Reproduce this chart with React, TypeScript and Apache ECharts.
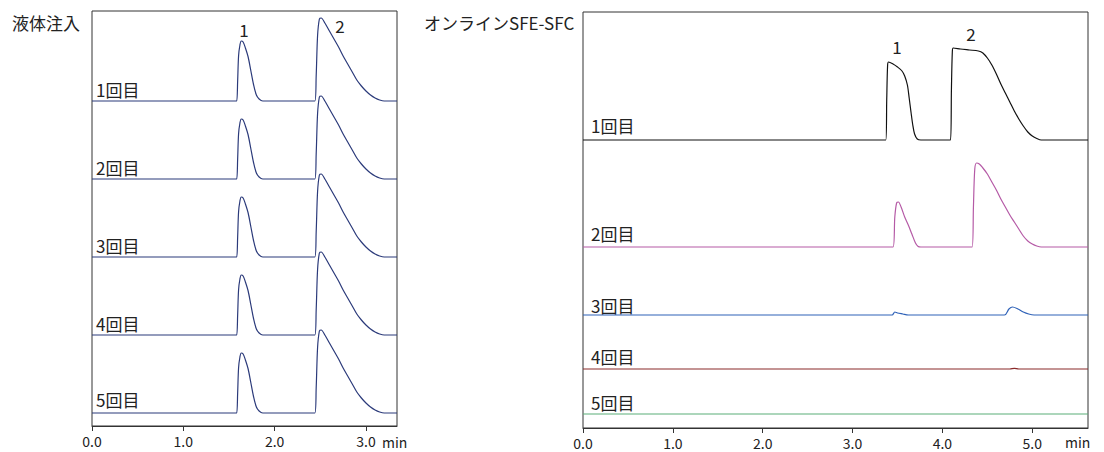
import React, { useEffect, useRef } from "react";
import * as echarts from "echarts";

// ---- Data ----
const runLabels = ["1回目", "2回目", "3回目", "4回目", "5回目"];
const xUnit = "min";

// Left panel (liquid injection) — same profile read for every run
const leftTimes = [0, 1.57, 1.585, 1.595, 1.605, 1.62, 1.635, 1.655, 1.68, 1.71, 1.74, 1.77, 1.8, 1.83, 1.87, 2.44, 2.455, 2.47, 2.49, 2.51, 2.55, 2.6, 2.65, 2.7, 2.75, 2.8, 2.85, 2.9, 2.95, 3.0, 3.05, 3.1, 3.15, 3.2, 3.34];
const leftRun1 = [0, 0, 0, 20, 45, 56, 60, 59, 53, 44, 30, 16, 6, 2, 0, 0, 25, 65, 82, 83, 78, 70, 62, 54, 45, 37, 29, 21, 15, 10, 6, 3, 1, 0, 0];
const leftRun2 = [0, 0, 0, 20, 45, 56, 60, 59, 53, 44, 30, 16, 6, 2, 0, 0, 25, 65, 82, 83, 78, 70, 62, 54, 45, 37, 29, 21, 15, 10, 6, 3, 1, 0, 0];
const leftRun3 = [0, 0, 0, 20, 45, 56, 60, 59, 53, 44, 30, 16, 6, 2, 0, 0, 25, 65, 82, 83, 78, 70, 62, 54, 45, 37, 29, 21, 15, 10, 6, 3, 1, 0, 0];
const leftRun4 = [0, 0, 0, 20, 45, 56, 60, 59, 53, 44, 30, 16, 6, 2, 0, 0, 25, 65, 82, 83, 78, 70, 62, 54, 45, 37, 29, 21, 15, 10, 6, 3, 1, 0, 0];
const leftRun5 = [0, 0, 0, 20, 45, 56, 60, 59, 53, 44, 30, 16, 6, 2, 0, 0, 25, 65, 82, 83, 78, 70, 62, 54, 45, 37, 29, 21, 15, 10, 6, 3, 1, 0, 0];
const leftOffsets = [325, 247, 169, 91, 13];

// Right panel (online SFE-SFC)
const rightRun1T = [0, 3.37, 3.38, 3.39, 3.4, 3.45, 3.5, 3.55, 3.58, 3.61, 3.63, 3.65, 3.67, 3.69, 3.72, 3.76, 4.09, 4.1, 4.11, 4.12, 4.2, 4.3, 4.4, 4.45, 4.5, 4.55, 4.6, 4.65, 4.7, 4.75, 4.8, 4.85, 4.9, 4.95, 5.0, 5.05, 5.1, 5.62];
const rightRun1V = [0, 0, 40, 75, 78, 76, 73, 69, 64, 55, 42, 28, 15, 6, 1, 0, 0, 50, 88, 92, 91, 90, 89, 87, 82, 75, 66, 56, 47, 38, 29, 21, 14, 8, 4, 1.5, 0, 0];
const rightRun2T = [0, 3.45, 3.47, 3.49, 3.51, 3.54, 3.58, 3.62, 3.66, 3.7, 3.73, 3.76, 4.33, 4.345, 4.36, 4.38, 4.41, 4.45, 4.5, 4.55, 4.6, 4.65, 4.7, 4.75, 4.8, 4.85, 4.9, 4.95, 5.0, 5.05, 5.1, 5.62];
const rightRun2V = [0, 0, 30, 44, 45, 40, 30, 22, 13, 4, 0.5, 0, 0, 40, 78, 84, 83, 79, 73, 65, 57, 48, 40, 32, 25, 18, 11, 6, 3, 1, 0, 0];
const rightRun3T = [0, 3.44, 3.47, 3.5, 3.56, 3.62, 4.69, 4.74, 4.78, 4.84, 4.9, 4.96, 5.02, 5.62];
const rightRun3V = [0, 0, 3, 2, 1, 0, 0, 6, 8, 6, 3, 1, 0, 0];
const rightRun4T = [0, 4.75, 4.8, 4.85, 5.62];
const rightRun4V = [0, 0, 0.6, 0, 0];
const rightRun5T = [0, 5.62];
const rightRun5V = [0, 0];
const rightOffsets = [288, 181, 113, 59, 14];

const leftColor = "#2b3a7a";
const rightColors = ["#111111", "#b55aa6", "#2f62b8", "#8a2a2a", "#5aae78"];
const FONT = "'Noto Sans CJK JP', 'Noto Sans', sans-serif";

function build(times: number[], vals: number[], off: number) {
  return times.map((t, i) => [t, vals[i] + off]);
}

export default function App() {
  const ref = useRef<HTMLDivElement>(null);
  useEffect(() => {
    document.body.style.margin = "0";
    const chart = echarts.init(ref.current!, null, { renderer: "svg" });
    const leftRuns = [leftRun1, leftRun2, leftRun3, leftRun4, leftRun5];
    const rightRuns: [number[], number[]][] = [
      [rightRun1T, rightRun1V],
      [rightRun2T, rightRun2V],
      [rightRun3T, rightRun3V],
      [rightRun4T, rightRun4V],
      [rightRun5T, rightRun5V],
    ];
    const axisCommon = {
      type: "value" as const,
      interval: 1,
      min: 0,
      axisLine: { show: true, lineStyle: { color: "#333", width: 1 } },
      axisTick: { show: true, length: 5, inside: false, lineStyle: { color: "#333" } },
      axisLabel: {
        color: "#222",
        fontSize: 14,
        fontFamily: FONT,
        margin: 8,
        showMaxLabel: false,
        formatter: (v: number) => v.toFixed(1),
      },
      splitLine: { show: false },
    };
    const series: any[] = [];
    leftRuns.forEach((r, i) => {
      series.push({
        type: "line",
        xAxisIndex: 0,
        yAxisIndex: 0,
        data: build(leftTimes, r, leftOffsets[i]),
        showSymbol: false,
        smooth: 0.3,
        lineStyle: { color: leftColor, width: 1.2 },
        silent: true,
      });
    });
    rightRuns.forEach((r, i) => {
      series.push({
        type: "line",
        xAxisIndex: 1,
        yAxisIndex: 1,
        data: build(r[0], r[1], rightOffsets[i]),
        showSymbol: false,
        smooth: 0.3,
        lineStyle: { color: rightColors[i], width: 1.2 },
        silent: true,
      });
    });
    const txt = (x: number, y: number, text: string, size = 17, align = "left") => ({
      type: "text",
      x,
      y,
      style: {
        text,
        fill: "#222",
        fontSize: size,
        fontFamily: FONT,
        textAlign: align,
        textVerticalAlign: "middle",
      },
      silent: true,
    });
    const graphics: any[] = [
      txt(12, 22, "液体注入"),
      txt(424, 22, "オンラインSFE-SFC"),
      txt(244, 29, "1", 17, "center"),
      txt(340, 25, "2", 17, "center"),
      txt(897, 46, "1", 17, "center"),
      txt(971, 33, "2", 17, "center"),
      txt(382, 442, xUnit, 14),
      txt(1065, 442, xUnit, 14),
    ];
    const leftLabelY = [89, 167, 245, 323, 399];
    const rightLabelY = [125, 233, 305, 356, 402];
    runLabels.forEach((lab, i) => {
      graphics.push(txt(96, leftLabelY[i], lab));
      graphics.push(txt(591, rightLabelY[i], lab));
    });
    chart.setOption({
      animation: false,
      grid: [
        { left: 92, right: 1104 - 397, top: 11, bottom: 452 - 426, show: true, borderColor: "#333", borderWidth: 1 },
        { left: 583, right: 1104 - 1088, top: 12, bottom: 452 - 428, show: true, borderColor: "#333", borderWidth: 1 },
      ],
      xAxis: [
        { ...axisCommon, gridIndex: 0, max: 3.34 },
        { ...axisCommon, gridIndex: 1, max: 5.62 },
      ],
      yAxis: [
        { type: "value", gridIndex: 0, min: 0, max: 415, show: false },
        { type: "value", gridIndex: 1, min: 0, max: 416, show: false },
      ],
      series,
      graphic: graphics,
    });
    return () => chart.dispose();
  }, []);
  return <div ref={ref} style={{ position: "absolute", left: 0, top: 0, width: 1104, height: 452 }} />;
}
